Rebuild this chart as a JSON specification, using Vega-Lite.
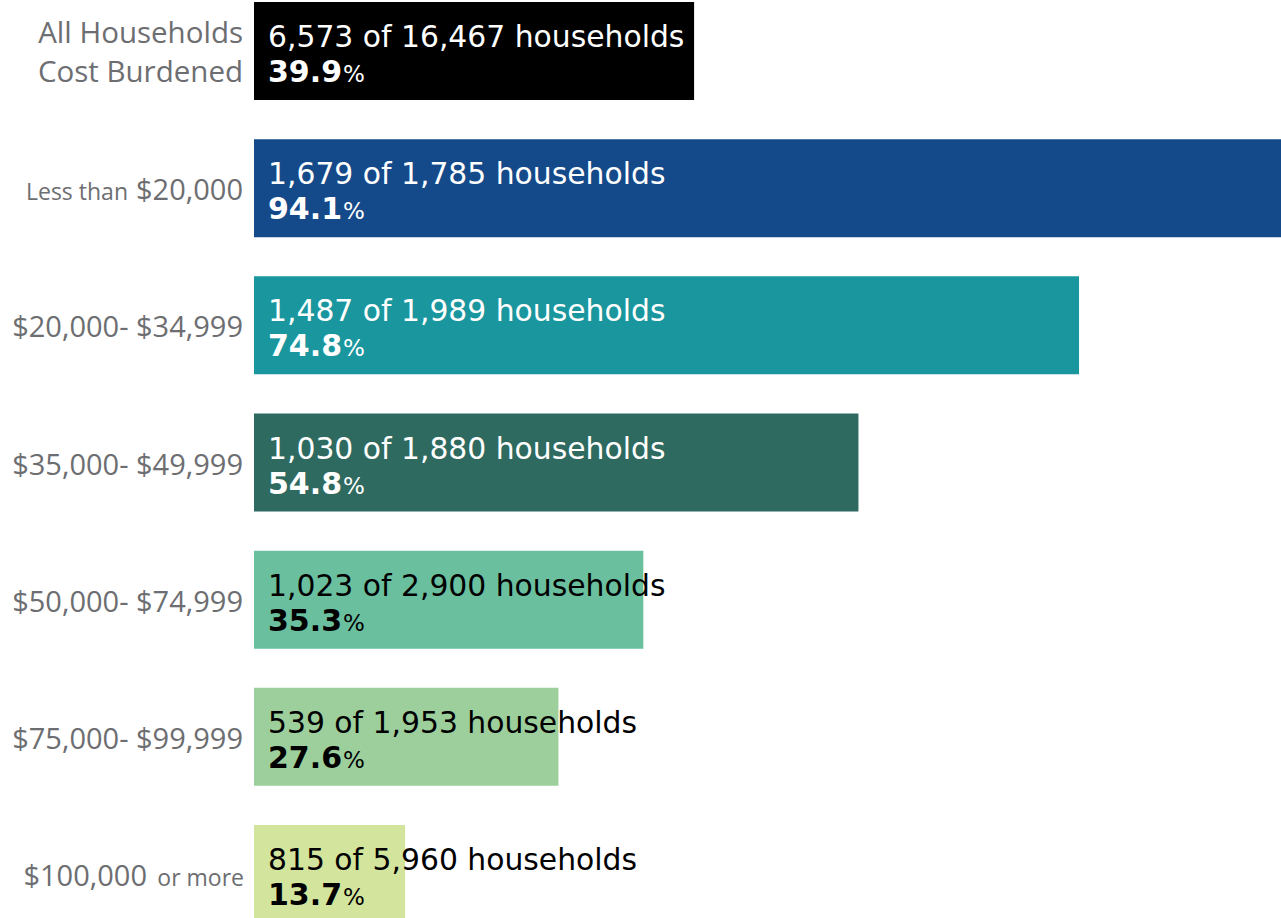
{
  "$schema": "https://vega.github.io/schema/vega-lite/v6.json",
  "autosize": {"type": "none"},
  "padding": {"left": 254, "top": 2, "right": 0, "bottom": 0},
  "width": 1027,
  "height": 916,
  "background": "white",
  "config": {"view": {"stroke": null}},
  "data": {"values": [
    {"group": "All Households Cost Burdened", "big": ["All Households", "Cost Burdened"], "small": "", "detail": "6,573 of 16,467 households", "pct": 39.9},
    {"group": "Less than $20,000", "big": "$20,000", "small": "Less than", "detail": "1,679 of 1,785 households", "pct": 94.1},
    {"group": "$20,000- $34,999", "big": "$20,000- $34,999", "small": "", "detail": "1,487 of 1,989 households", "pct": 74.8},
    {"group": "$35,000- $49,999", "big": "$35,000- $49,999", "small": "", "detail": "1,030 of 1,880 households", "pct": 54.8},
    {"group": "$50,000- $74,999", "big": "$50,000- $74,999", "small": "", "detail": "1,023 of 2,900 households", "pct": 35.3},
    {"group": "$75,000- $99,999", "big": "$75,000- $99,999", "small": "", "detail": "539 of 1,953 households", "pct": 27.6},
    {"group": "$100,000 or more", "big": "$100,000", "small": "or more", "detail": "815 of 5,960 households", "pct": 13.7}
  ]},
  "encoding": {
    "y": {"field": "group", "type": "nominal", "sort": null, "axis": null,
      "scale": {"range": [0, 921], "paddingInner": 0.2856, "paddingOuter": 0}}
  },
  "layer": [
    {
      "mark": {"type": "bar", "clip": true},
      "encoding": {
        "x": {"field": "pct", "type": "quantitative", "axis": null, "scale": {"domain": [0, 93.11], "nice": false}},
        "color": {"field": "group", "type": "nominal", "legend": null,
          "scale": {"domain": ["All Households Cost Burdened", "Less than $20,000", "$20,000- $34,999", "$35,000- $49,999", "$50,000- $74,999", "$75,000- $99,999", "$100,000 or more"],
            "range": ["#000000", "#154a8a", "#1a969e", "#2e6a60", "#6abf9f", "#9dcf9c", "#d3e59d"]}}
      }
    },
    {
      "mark": {"type": "text", "align": "left", "baseline": "alphabetic", "dx": 14, "dy": -4, "font": "DejaVu Sans", "fontSize": 29.8},
      "encoding": {
        "x": {"datum": 0},
        "text": {"field": "detail"},
        "color": {"field": "group", "type": "nominal", "legend": null,
          "scale": {"domain": ["All Households Cost Burdened", "Less than $20,000", "$20,000- $34,999", "$35,000- $49,999", "$50,000- $74,999", "$75,000- $99,999", "$100,000 or more"],
            "range": ["#ffffff", "#ffffff", "#ffffff", "#ffffff", "#000000", "#000000", "#000000"]}}
      }
    },
    {
      "mark": {"type": "text", "align": "left", "baseline": "alphabetic", "dx": 14, "dy": 31, "font": "DejaVu Sans", "fontWeight": "bold", "fontSize": 30},
      "encoding": {
        "x": {"datum": 0},
        "text": {"field": "pct", "type": "quantitative", "format": ".1f"},
        "color": {"field": "group", "type": "nominal", "legend": null,
          "scale": {"domain": ["All Households Cost Burdened", "Less than $20,000", "$20,000- $34,999", "$35,000- $49,999", "$50,000- $74,999", "$75,000- $99,999", "$100,000 or more"],
            "range": ["#ffffff", "#ffffff", "#ffffff", "#ffffff", "#000000", "#000000", "#000000"]}}
      }
    },
    {
      "mark": {"type": "text", "align": "left", "baseline": "alphabetic", "dx": 89, "dy": 31, "font": "DejaVu Sans", "fontSize": 23},
      "encoding": {
        "x": {"datum": 0},
        "text": {"value": "%"},
        "color": {"field": "group", "type": "nominal", "legend": null,
          "scale": {"domain": ["All Households Cost Burdened", "Less than $20,000", "$20,000- $34,999", "$35,000- $49,999", "$50,000- $74,999", "$75,000- $99,999", "$100,000 or more"],
            "range": ["#ffffff", "#ffffff", "#ffffff", "#ffffff", "#000000", "#000000", "#000000"]}}
      }
    },
    {
      "transform": [{"filter": "datum.group === 'All Households Cost Burdened'"}],
      "mark": {"type": "text", "align": "right", "baseline": "alphabetic", "dx": -11, "dy": -8, "lineHeight": 39, "font": "Open Sans", "fontSize": 29.5, "color": "#6d6e71"},
      "encoding": {"x": {"datum": 0}, "text": {"field": "big"}}
    },
    {
      "transform": [{"filter": "datum.group !== 'All Households Cost Burdened' && datum.group !== '$100,000 or more'"}],
      "mark": {"type": "text", "align": "right", "baseline": "alphabetic", "dx": -11, "dy": 12, "font": "Open Sans", "fontSize": 29, "color": "#6d6e71"},
      "encoding": {"x": {"datum": 0}, "text": {"field": "big"}}
    },
    {
      "transform": [{"filter": "datum.group === 'Less than $20,000'"}],
      "mark": {"type": "text", "align": "right", "baseline": "alphabetic", "dx": -126, "dy": 12, "font": "Open Sans", "fontSize": 23, "color": "#6d6e71"},
      "encoding": {"x": {"datum": 0}, "text": {"field": "small"}}
    },
    {
      "transform": [{"filter": "datum.group === '$100,000 or more'"}],
      "mark": {"type": "text", "align": "right", "baseline": "alphabetic", "dx": -10, "dy": 12, "font": "Open Sans", "fontSize": 23, "color": "#6d6e71"},
      "encoding": {"x": {"datum": 0}, "text": {"field": "small"}}
    },
    {
      "transform": [{"filter": "datum.group === '$100,000 or more'"}],
      "mark": {"type": "text", "align": "right", "baseline": "alphabetic", "dx": -107, "dy": 12, "font": "Open Sans", "fontSize": 29, "color": "#6d6e71"},
      "encoding": {"x": {"datum": 0}, "text": {"field": "big"}}
    }
  ],
  "resolve": {"scale": {"color": "independent"}}
}
